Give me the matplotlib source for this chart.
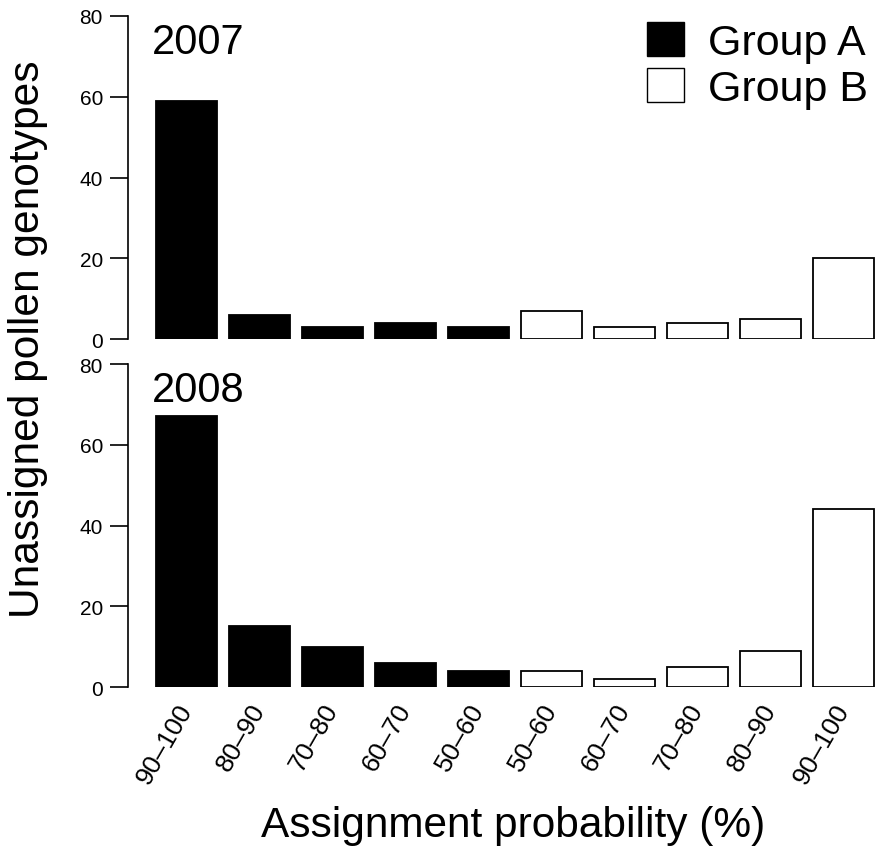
import numpy as np
import matplotlib.pyplot as plt
from matplotlib.patches import Patch

plt.rcParams['font.family'] = ['Liberation Sans', 'DejaVu Sans']

# --- Data ---
categories = ["90–100", "80–90", "70–80", "60–70", "50–60",
              "50–60", "60–70", "70–80", "80–90", "90–100"]
groups = ["A"] * 5 + ["B"] * 5
counts_2007 = [59, 6, 3, 4, 3, 7, 3, 4, 5, 20]
counts_2008 = [67, 15, 10, 6, 4, 4, 2, 5, 9, 44]

# R barplot style positions (width 1, space 0.2)
x = 0.7 + 1.2 * np.arange(len(categories))
colors = ["black" if g == "A" else "white" for g in groups]

W, H = 876, 853
fig = plt.figure(figsize=(W / 100, H / 100), dpi=100)


def make_axes(top_px, bottom_px):
    left = 128 / W
    ax = fig.add_axes([left, 1 - bottom_px / H, 1 - left, (bottom_px - top_px) / H])
    return ax


panels = [("2007", counts_2007, 17, 340), ("2008", counts_2008, 365, 688)]
axes = []
for year, counts, t, b in panels:
    ax = make_axes(t, b)
    ax.bar(x, counts, width=1.0, color=colors, edgecolor="black", linewidth=1.3)
    ax.set_xlim(-0.26, 12.03)
    ax.set_ylim(0, 80)
    ax.set_yticks([0, 20, 40, 60, 80])
    for s in ["top", "right", "bottom"]:
        ax.spines[s].set_visible(False)
    ax.spines["left"].set_linewidth(1.2)
    ax.tick_params(axis="y", direction="out", length=13, width=1.2,
                   labelsize=15, pad=5)
    ax.set_xticks([])
    ax.text(0.14, 78.5, year, fontsize=30, ha="left", va="top")
    axes.append(ax)

ax_top, ax_bot = axes
ax_bot.set_xticks(x)
ax_bot.set_xticklabels(categories, rotation=60, ha="right", va="center",
                       rotation_mode="anchor", fontsize=19)
ax_bot.tick_params(axis="x", length=0, pad=13)

handles = [Patch(facecolor="black", edgecolor="black"),
           Patch(facecolor="white", edgecolor="black")]
ax_top.legend(handles, ["Group A", "Group B"], loc="upper right",
              bbox_to_anchor=(1.012, 1.035), frameon=False, fontsize=31,
              handlelength=0.85, handleheight=0.85, handletextpad=0.55,
              labelspacing=0.12, borderaxespad=0.0)

fig.text(0.0325, 0.6026, "Unassigned pollen genotypes", rotation=90,
         fontsize=30.6, ha="center", va="center")
fig.text(0.586, 0.0188, "Assignment probability (%)", fontsize=30.5,
         ha="center", va="baseline")

fig.savefig("out.png", dpi=100)
